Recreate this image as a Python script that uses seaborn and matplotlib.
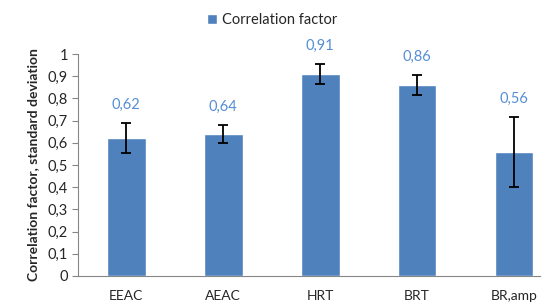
import numpy as np
import pandas as pd
import seaborn as sns
import matplotlib.pyplot as plt

# values
methods = ['EEAC', 'AEAC', 'HRT', 'BRT', 'BR,amp']
corr = [0.62, 0.64, 0.91, 0.86, 0.56]
std_dev = [0.068, 0.042, 0.047, 0.045, 0.158]
y_ticks = [0, 0.1, 0.2, 0.3, 0.4, 0.5, 0.6, 0.7, 0.8, 0.9, 1.0]

df = pd.DataFrame({'method': methods, 'corr': corr})

sns.set_style('white')
plt.rcParams['font.family'] = ['Lato', 'DejaVu Sans']

bar_color = '#4F81BD'
label_color = '#558ED5'

fig = plt.figure(figsize=(5.44, 3.07), dpi=100)
ax = fig.add_axes([0.143, 0.101, 0.85, 0.723])

sns.barplot(data=df, x='method', y='corr', color=bar_color, width=0.4,
            errorbar=None, saturation=1, ax=ax, label='Correlation factor')
ax.errorbar(np.arange(len(methods)), corr, yerr=std_dev, fmt='none',
            ecolor='black', elinewidth=1.3, capsize=3.5, capthick=1.3)
if ax.get_legend() is not None:
    ax.get_legend().remove()

# data labels above error bars
for i, (v, s) in enumerate(zip(corr, std_dev)):
    ax.annotate(('%.2f' % v).replace('.', ','), xy=(i, v + s),
                xytext=(0, 13), textcoords='offset points',
                ha='center', va='center', color=label_color, fontsize=10.5)

ax.set_ylim(0, 1)
ax.set_xlim(-0.5, 4.27)
ax.set_yticks(y_ticks)
ax.set_yticklabels([('%g' % t).replace('.', ',') for t in y_ticks], fontsize=10.5)
ax.tick_params(axis='y', length=4, width=0.8, color='#868686', pad=3, left=True)
ax.tick_params(axis='x', length=0, pad=10, labelsize=10)
ax.set_xlabel('')
ax.set_ylabel('Correlation factor, standard deviation', fontsize=10,
              fontweight='bold', labelpad=6)

for side in ['top', 'right']:
    ax.spines[side].set_visible(False)
for side in ['left', 'bottom']:
    ax.spines[side].set_color('#868686')
    ax.spines[side].set_linewidth(0.8)

handles, labels = ax.get_legend_handles_labels()
fig.legend(handles[:1], labels[:1], loc='upper center', bbox_to_anchor=(0.5, 1.0),
           frameon=False, fontsize=10.5, handlelength=0.7, handleheight=0.7,
           handletextpad=0.3)

fig.savefig('out.png', dpi=100)
